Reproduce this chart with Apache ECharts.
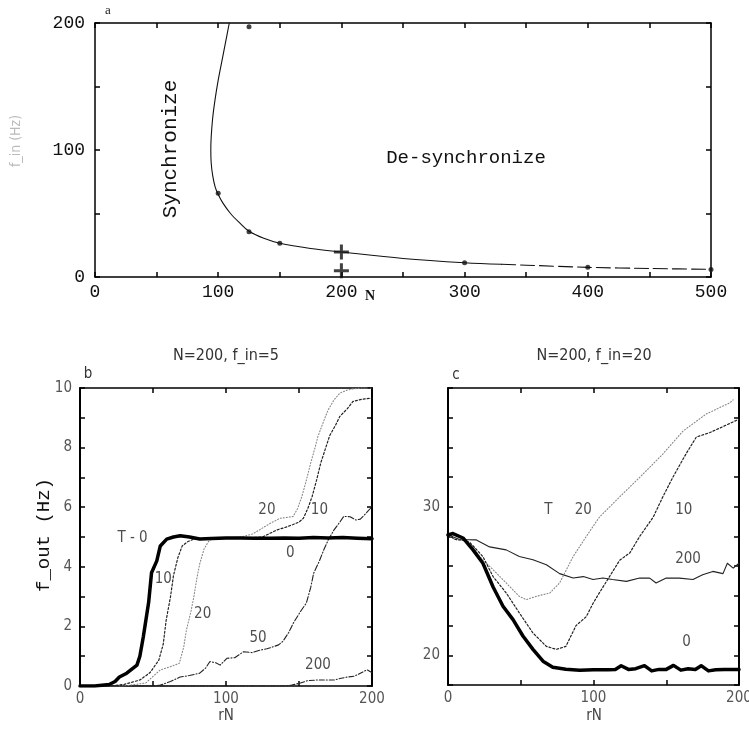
<!DOCTYPE html>
<html><head><meta charset="utf-8">
<script src="https://cdn.jsdelivr.net/npm/echarts@6/dist/echarts.min.js"></script>
<style>html,body{margin:0;padding:0;background:#fff}#c{width:749px;height:731px}</style>
</head><body><div id="c"></div>
<script>
// ---------- Panel a ----------
const aCurveN = [109,106,103,100,97.5,95.5,94.3,94,94.3,95.5,97.5,100,104,110,117,125,137,150,175,200,250,300,330];
const aCurveF = [200,185,170,155,140,125,110,100,90,80,71,65,58,50,43,36,30.5,26.6,22.5,19.7,14.6,11.2,10];
const aTailN = [330,350,400,450,500];
const aTailF = [10,9.3,7.6,6.7,6];
const aDotN = [100,125,150,300,400,500,125];
const aDotF = [66,35.7,26.6,11.2,7.6,6,197];
const aCrossN = [200,200];
const aCrossF = [19.7,5];
const aXTicks = [0,100,200,300,400,500];
const aYTicks = [0,100,200];

// ---------- Panel b (N=200, f_in=5) ----------
const b0X = [0,10,20,24,27,32,39,41,43.4,47,49,52.6,55,59.4,64,68.6,75,82,90,100,110,120,130,140,150,160,170,180,190,200];
const b0Y = [0,0,0.05,0.15,0.3,0.43,0.7,1.0,1.66,2.8,3.8,4.2,4.7,4.93,5.0,5.04,5.0,4.93,4.95,4.97,4.97,4.96,4.96,4.97,4.96,4.98,4.97,4.98,4.96,4.94];
const b10X = [0,20,30,41,48,54,57,59,62,64,67,70,74,78,85,100,115,125,130,135,141,146,150,153,156,159,162,165,168,171,175,178,183,187,193,200];
const b10Y = [0,0,0.05,0.2,0.45,0.87,1.4,2.2,3.0,3.7,4.3,4.7,4.85,4.93,4.95,4.97,4.97,5.0,5.12,5.24,5.33,5.42,5.5,5.63,5.95,6.36,6.9,7.5,7.95,8.4,8.75,9.05,9.3,9.55,9.62,9.66];
const b20X = [0,30,45,55,62,68,71,73,76,78,80,82,85,88,91,100,110,118,123,130,137,141,146,149,152,155,158,161,163,167,170,174,178,183,187,193,200];
const b20Y = [0,0,0.1,0.54,0.65,0.76,1.3,1.9,2.5,3.0,3.6,4.1,4.6,4.85,4.96,4.97,5.0,5.1,5.24,5.45,5.63,5.65,5.69,5.95,6.36,6.9,7.48,8.0,8.38,8.9,9.27,9.6,9.83,9.93,9.97,10,10];
const b50X = [0,50,55,62,68.6,75,82,86,89,93,96,100.6,106,112,118,123,128,132.6,136,139,143,146,151,155,158,160,164,167,170,174,178,180.6,185,189,192,196,200];
const b50Y = [0,0,0.03,0.15,0.3,0.35,0.43,0.6,0.82,0.78,0.7,0.93,0.95,1.15,1.12,1.2,1.25,1.32,1.38,1.5,1.8,2.1,2.5,2.78,3.3,3.78,4.2,4.57,4.9,5.24,5.5,5.69,5.68,5.57,5.6,5.8,6.02];
const b200X = [0,140,145,151,156,162,168,174,178,183,188,192,196.6,200];
const b200Y = [0,0,0.03,0.1,0.18,0.2,0.2,0.2,0.25,0.3,0.33,0.43,0.54,0.45];
const bLabText = ['T - 0','10','20','50','200','20','10','0'];
const bLabX = [36,57,84,122,163,128,164,144];
const bLabY = [4.97,3.6,2.4,1.6,0.7,5.9,5.9,4.46];

// ---------- Panel c (N=200, f_in=20) ----------
const c0X = [0,3.4,10.3,17.2,24,31,37.8,44.7,51.5,58.4,65.3,72,81,90.5,100,110,115,119,124,129,135,140,145,150,155,160,165,170,174,179,184,190,200];
const c0Y = [28.1,28.2,27.9,27.1,26.2,24.6,23.3,22.4,21.3,20.4,19.6,19.2,19.06,19.0,19.02,19.02,19.05,19.3,19.05,19.1,19.3,18.95,19.05,19.05,19.32,19.0,19.1,19.05,19.3,18.95,19.02,19.05,19.05];
const c10X = [0,5,10,15,24,31,40,49,58.4,67.6,74.5,81,88,95,99.7,104,111,118,125,131.7,141,147.8,154.6,163.8,170.7,180,189,200];
const c10Y = [28.1,27.8,27.75,27.6,26.65,25.3,24.2,22.86,21.5,20.6,20.4,20.6,22,22.6,23.5,24.2,25.3,26.4,26.9,28,29.3,30.7,32,33.6,34.7,35,35.4,35.9];
const c20X = [0,5,10,15,21.8,31,40,49,53.8,60.7,70,76.7,86,95,104,118,134,147.8,161.5,177.5,193.6,196];
const c20Y = [28.1,27.8,27.75,27.6,26.65,25.76,24.87,23.97,23.75,23.97,24.2,24.87,26.65,28,29.3,30.67,32.2,33.57,35.1,36.25,37,37.2];
const c200X = [0,8,19.5,28.6,40,49,58.4,67.6,76.7,86,93,99.7,106.5,113,122.6,131.7,138.6,143,150,159,168.4,175,182,189,192,196,200];
const c200Y = [28.1,27.8,27.77,27.3,27.1,26.65,26.43,26.1,25.5,25.2,25.3,25.1,25.2,25.1,24.98,25.2,25.2,24.87,25.2,25.2,25.1,25.42,25.65,25.5,26.2,25.87,26.2];
const cLabText = ['T','20','10','200','0'];
const cLabX = [69,93,162,165,164];
const cLabY = [29.8,29.8,29.8,26.5,20.9];

const zip = (xs, ys) => xs.map((x, i) => [x, ys[i]]);

const MONO = "'Liberation Mono','DejaVu Sans Mono',monospace";
const NARROW = "'Liberation Sans Narrow','DejaVu Sans Condensed','Liberation Sans',sans-serif";

function axisPair(dir, grid, min, max, interval, fmt, opts) {
  const o = opts || {};
  const base = {
    type: 'value', gridIndex: grid, min: min, max: max, interval: interval,
    splitLine: { show: false },
    axisLine: { show: true, onZero: false, lineStyle: { color: '#000', width: o.lw || 1.5 } },
    axisTick: { show: true, inside: true, length: 5, lineStyle: { color: '#000', width: 1.5 } },
  };
  const main = Object.assign({}, base, {
    position: dir === 'x' ? 'bottom' : 'left',
    axisLabel: {
      show: true, formatter: fmt, margin: o.margin || 8,
      fontFamily: o.font || NARROW, fontSize: o.fs || 14, color: o.lc || '#333',
      showMinLabel: true, showMaxLabel: true, hideOverlap: false
    }
  });
  const sec = Object.assign({}, base, {
    position: dir === 'x' ? 'top' : 'right',
    axisLabel: { show: false }
  });
  return [main, sec];
}

const only = (list) => (v) => (list.indexOf(v) >= 0 ? String(v) : '');

const xAxes = [
  ...axisPair('x', 0, 0, 500, 50, only(aXTicks), { font: MONO, fs: 18, lc: '#111', margin: 6, lw: 1.5 }),
  ...axisPair('x', 1, 0, 200, 50, only([0,100,200]), { fs: 15, lc: '#555', margin: 6, lw: 1.5 }),
  ...axisPair('x', 2, 0, 200, 50, only([0,100,200]), { fs: 15, lc: '#555', margin: 6, lw: 1.5 }),
];
const yAxes = [
  ...axisPair('y', 0, 0, 200, 50, only(aYTicks), { font: MONO, fs: 18, lc: '#111', margin: 10, lw: 1.5 }),
  ...axisPair('y', 1, 0, 10, 1, only([0,2,4,6,8,10]), { fs: 15, lc: '#555', margin: 8, lw: 2 }),
  ...axisPair('y', 2, 18, 38, 2, only([20,30]), { fs: 15, lc: '#555', margin: 8, lw: 2 }),
];

function line(grid, xs, ys, width, color, type, z) {
  return {
    type: 'line', xAxisIndex: grid * 2, yAxisIndex: grid * 2, data: zip(xs, ys),
    showSymbol: false, symbol: 'none', smooth: false, animation: false, z: z || 2,
    lineStyle: { color: color, width: width, type: type, cap: 'round', join: 'round' }
  };
}
function labels(grid, texts, xs, ys, fs) {
  return {
    type: 'scatter', xAxisIndex: grid * 2, yAxisIndex: grid * 2, symbolSize: 1, z: 5,
    itemStyle: { color: 'rgba(0,0,0,0)' }, animation: false, silent: true,
    data: texts.map((t, i) => ({ name: t, value: [xs[i], ys[i]] })),
    label: { show: true, position: 'inside', formatter: '{b}', fontFamily: NARROW, fontSize: fs, color: '#222' }
  };
}

const PLUS = 'path://M-1.2,-6 L1.2,-6 L1.2,-1.2 L6,-1.2 L6,1.2 L1.2,1.2 L1.2,6 L-1.2,6 L-1.2,1.2 L-6,1.2 L-6,-1.2 L-1.2,-1.2 Z';

const option = {
  backgroundColor: '#fff',
  animation: false,
  grid: [
    { left: 95, top: 23, width: 616, height: 254, outerBoundsMode: 'none', containLabel: false },
    { left: 80, top: 388, width: 292, height: 298, outerBoundsMode: 'none', containLabel: false },
    { left: 448, top: 388, width: 291, height: 297, outerBoundsMode: 'none', containLabel: false },
  ],
  xAxis: xAxes,
  yAxis: yAxes,
  series: [
    // panel a
    Object.assign(line(0, aCurveN, aCurveF, 1.1, '#111', 'solid'), { smooth: 0.35 }),
    Object.assign(line(0, aTailN, aTailF, 1.1, '#111', [14, 5]), { smooth: 0.25 }),
    { type: 'scatter', xAxisIndex: 0, yAxisIndex: 0, data: zip(aDotN, aDotF), symbol: 'circle', symbolSize: 5,
      itemStyle: { color: '#111' }, z: 4, animation: false },
    { type: 'scatter', xAxisIndex: 0, yAxisIndex: 0, data: zip(aCrossN, aCrossF), symbol: PLUS, symbolSize: 15,
      itemStyle: { color: '#111' }, z: 4, animation: false },
    // panel b
    line(1, b200X, b200Y, 1.1, '#222', [5, 2, 1, 2]),
    line(1, b50X, b50Y, 1.1, '#222', [6, 2, 1, 2]),
    line(1, b20X, b20Y, 1.1, '#888', [1, 2]),
    line(1, b10X, b10Y, 1.2, '#222', [2, 2]),
    line(1, b0X, b0Y, 3.5, '#000', 'solid', 3),
    labels(1, bLabText, bLabX, bLabY, 15),
    // panel c
    line(2, c200X, c200Y, 1.1, '#222', 'solid'),
    line(2, c20X, c20Y, 1.1, '#888', [1, 2]),
    line(2, c10X, c10Y, 1.2, '#222', [2, 2]),
    line(2, c0X, c0Y, 3.5, '#000', 'solid', 3),
    labels(2, cLabText, cLabX, cLabY, 15),
  ],
  graphic: [
    { type: 'text', x: 108, y: 11, style: { text: 'a', font: "13px 'Liberation Serif',serif", fill: '#222', align: 'center', verticalAlign: 'middle' } },
    { type: 'text', x: 16, y: 141, rotation: Math.PI / 2, style: { text: 'f_in (Hz)', font: "14px " + NARROW, fill: '#bbb', align: 'center', verticalAlign: 'middle' } },
    { type: 'text', x: 170, y: 149, rotation: Math.PI / 2, style: { text: 'Synchronize', font: "21px " + MONO, fill: '#111', align: 'center', verticalAlign: 'middle' } },
    { type: 'text', x: 466, y: 158, style: { text: 'De-synchronize', font: "19px " + MONO, fill: '#111', align: 'center', verticalAlign: 'middle' } },
    { type: 'text', x: 370, y: 296, style: { text: 'N', font: "bold 14px 'Liberation Serif',serif", fill: '#111', align: 'center', verticalAlign: 'middle' } },
    // panel b
    { type: 'text', x: 226, y: 356, style: { text: 'N=200, f_in=5', font: "16px " + NARROW, fill: '#333', align: 'center', verticalAlign: 'middle' } },
    { type: 'text', x: 88, y: 374, style: { text: 'b', font: "15px " + NARROW, fill: '#333', align: 'center', verticalAlign: 'middle' } },
    { type: 'text', x: 44, y: 535, rotation: Math.PI / 2, style: { text: 'f_out (Hz)', font: "19px " + MONO, fill: '#111', align: 'center', verticalAlign: 'middle' } },
    { type: 'text', x: 226, y: 716, style: { text: 'rN', font: "15px " + NARROW, fill: '#444', align: 'center', verticalAlign: 'middle' } },
    // panel c
    { type: 'text', x: 594, y: 356, style: { text: 'N=200, f_in=20', font: "16px " + NARROW, fill: '#333', align: 'center', verticalAlign: 'middle' } },
    { type: 'text', x: 456, y: 375, style: { text: 'c', font: "15px " + NARROW, fill: '#333', align: 'center', verticalAlign: 'middle' } },
    { type: 'text', x: 594, y: 716, style: { text: 'rN', font: "15px " + NARROW, fill: '#444', align: 'center', verticalAlign: 'middle' } },
  ]
};

const chart = echarts.init(document.getElementById('c'), null, { renderer: 'canvas', width: 749, height: 731 });
chart.setOption(option);
</script>
</body></html>
